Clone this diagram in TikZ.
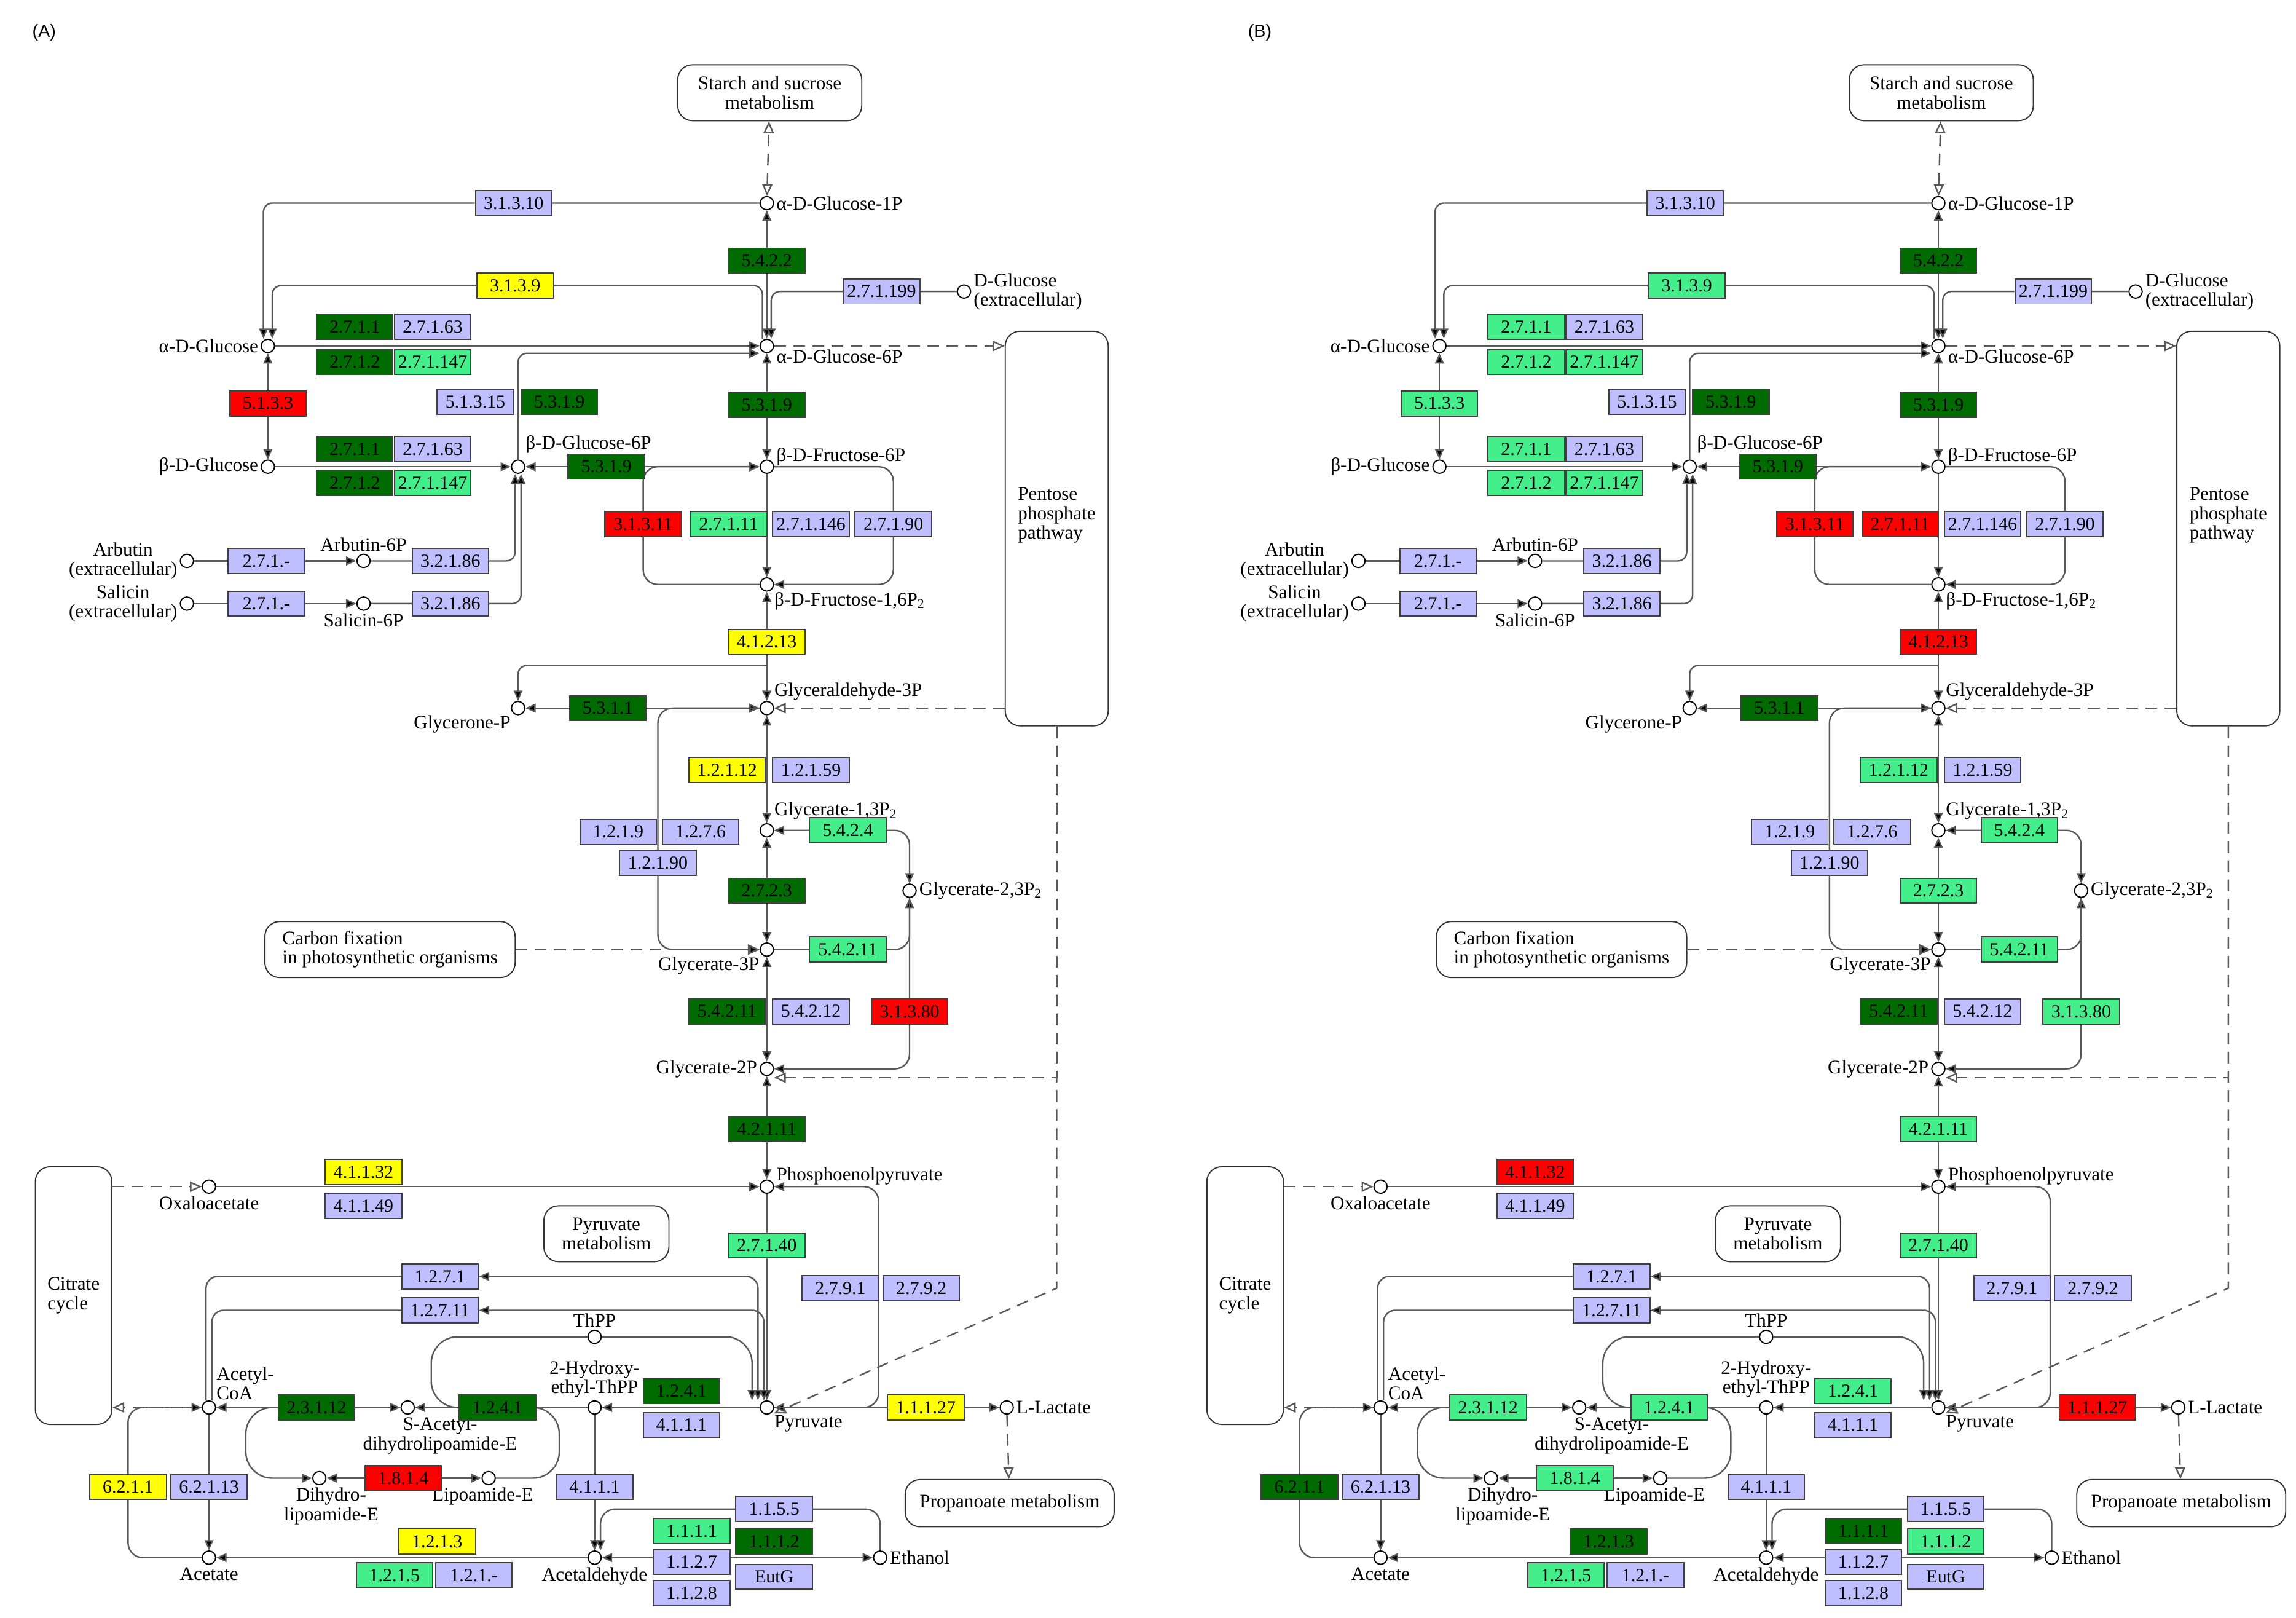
\documentclass[tikz,border=0pt]{standalone}
\usepackage{fontspec}
\setmainfont{Liberation Serif}
\newfontfamily\panelfont{Liberation Sans}
\usetikzlibrary{positioning}
\usetikzlibrary{arrows.meta}
\pgfdeclarelayer{bg}
\pgfsetlayers{bg,main}

\definecolor{lav}{HTML}{BFBFFF}
\definecolor{mint}{HTML}{44EE8B}
\definecolor{dkg}{HTML}{006B00}
\definecolor{rd}{HTML}{FF0000}
\definecolor{yl}{HTML}{FFFF00}

\tikzset{
  enz/.style={draw=black!75, line width=0.8pt, fill=lav, minimum width=52pt,
    minimum height=17pt, inner sep=0pt, font=\fontsize{12.5}{12.5}\selectfont},
  lgr/.style={fill=mint}, dgr/.style={fill=dkg}, red/.style={fill=rd}, ylw/.style={fill=yl},
  cpd/.style={circle, draw=black, fill=white, line width=0.8pt, minimum size=9pt, inner sep=0pt},
  every label/.style={font=\fontsize{13}{13}\selectfont, inner sep=1.5pt, align=left},
  map/.style={draw=black!80, line width=0.8pt, fill=white, rounded corners=10pt, align=left,
    font=\fontsize{13}{13}\selectfont},
  link/.style={draw=black!65, line width=1pt},
  ot/.tip={Triangle[open,length=8pt,width=7pt]},
  dlink/.style={link, dash pattern=on 8pt off 5pt},
  % colours of panel A
  k3139/.style=ylw, k2711/.style=dgr, k5133/.style=red, k27111/.style=lgr,
  k41213/.style=ylw, k12112/.style=ylw, k2723/.style=dgr, k31380/.style=red,
  k42111/.style=dgr, k41132/.style=ylw, k23112/.style=dgr, k1241/.style=dgr,
  k1814/.style=red, k11127/.style=ylw, k6211/.style=ylw, k1213/.style=ylw,
  k1111/.style=lgr, k1112/.style=dgr
}

\newcommand{\pwpanel}[1]{
% maps
\node[map, align=center, minimum width=125pt, minimum height=38pt] (#1-starch) at (523,63) {Starch and sucrose\\metabolism};
\node[map, minimum width=70pt, minimum height=268pt,
  label={[yshift=9pt]center:{Pentose\\phosphate\\pathway}}] (#1-ppp) at (718,359) {};
\node[map, minimum width=170pt, minimum height=38pt] (#1-cfix) at (265,645) {Carbon fixation\\in photosynthetic organisms};
\node[map, minimum width=52pt, minimum height=175pt] (#1-cit) at (50,880) {Citrate\\cycle};
\node[map, align=center, minimum width=85pt, minimum height=38pt] (#1-pyrm) at (412,838) {Pyruvate\\metabolism};
\node[map, minimum width=142pt, minimum height=32pt] (#1-prop) at (686,1021) {Propanoate metabolism};

% compounds
\node[cpd, label=right:{α-D-Glucose-1P}] (#1-g1p) at (521,138) {};
\node[cpd, label=right:{D-Glucose\\(extracellular)}] (#1-dglc) at (655,198) {};
\node[cpd, label=left:{α-D-Glucose}] (#1-aglc) at (182,235) {};
\node[cpd, label={[yshift=-7pt]right:{α-D-Glucose-6P}}] (#1-g6p) at (521,235) {};
\node[cpd, label=left:{β-D-Glucose}] (#1-bglc) at (182,317) {};
\node[cpd, label={[yshift=4pt]above right:{β-D-Glucose-6P}}] (#1-bg6p) at (352,317) {};
\node[cpd, label={[yshift=7pt]right:{β-D-Fructose-6P}}] (#1-bf6p) at (521,317) {};
\node[cpd, label=below right:{β-D-Fructose-1,6P\textsubscript{2}}] (#1-bf16p) at (521,397) {};
\node[cpd, label={[align=center]left:{Arbutin\\(extracellular)}}] (#1-arbx) at (127,381) {};
\node[cpd, label=above:{Arbutin-6P}] (#1-arb6p) at (247,381) {};
\node[cpd, label={[align=center]left:{Salicin\\(extracellular)}}] (#1-salx) at (127,410) {};
\node[cpd, label=below:{Salicin-6P}] (#1-sal6p) at (247,410) {};
\node[cpd, label=above right:{Glyceraldehyde-3P}] (#1-ga3p) at (521,481) {};
\node[cpd, label=below left:{Glycerone-P}] (#1-gnp) at (352,481) {};
\node[cpd, label={[yshift=2pt]above right:{Glycerate-1,3P\textsubscript{2}}}] (#1-g13p) at (521,564) {};
\node[cpd, label=right:{Glycerate-2,3P\textsubscript{2}}] (#1-g23p) at (618,605) {};
\node[cpd, label=below left:{Glycerate-3P}] (#1-g3p) at (521,645) {};
\node[cpd, label=left:{Glycerate-2P}] (#1-g2p) at (521,726) {};
\node[cpd, label={[yshift=7pt]right:{Phosphoenolpyruvate}}] (#1-pep) at (521,806) {};
\node[cpd, label=below:{Oxaloacetate}] (#1-oaa) at (142,806) {};
\node[cpd, label=below right:{Pyruvate}] (#1-pyr) at (521,956) {};
\node[cpd, label=right:{L-Lactate}] (#1-llac) at (684,956) {};
\node[cpd, label=above:{ThPP}] (#1-thpp) at (404,908) {};
\node[cpd, label={[align=center]above:{2-Hydroxy-\\ethyl-ThPP}}] (#1-hetpp) at (404,956) {};
\node[cpd, label=above right:{Acetyl-\\CoA}] (#1-acoa) at (142,956) {};
\node[cpd, label={[align=center,xshift=22pt]below:{S-Acetyl-\\dihydrolipoamide-E}}] (#1-sacl) at (277,956) {};
\node[cpd, label={[align=center,xshift=8pt]below:{Dihydro-\\lipoamide-E}}] (#1-dhl) at (217,1004) {};
\node[cpd, label={[xshift=-4pt]below:{Lipoamide-E}}] (#1-lam) at (332,1004) {};
\node[cpd, label=below:{Acetate}] (#1-acet) at (142,1058) {};
\node[cpd, label=below:{Acetaldehyde}] (#1-acald) at (404,1058) {};
\node[cpd, label=right:{Ethanol}] (#1-etoh) at (598,1058) {};

% enzymes
\node[enz] (#1-e31310) at (349,138) {3.1.3.10};
\node[enz, dgr] (#1-e5422) at (521,177) {5.4.2.2};
\node[enz, k3139] (#1-e3139) at (350,194) {3.1.3.9};
\node[enz] (#1-e271199) at (599,198) {2.7.1.199};
\node[enz, k2711] (#1-e2711a) at (241,222) {2.7.1.1};
\node[enz] (#1-e27163a) at (294,222) {2.7.1.63};
\node[enz, k2711] (#1-e2712a) at (241,246) {2.7.1.2};
\node[enz, lgr] (#1-e27147a) at (294,246) {2.7.1.147};
\node[enz, k5133] (#1-e5133) at (182,274) {5.1.3.3};
\node[enz] (#1-e51315) at (323,273) {5.1.3.15};
\node[enz, dgr] (#1-e5319a) at (380,273) {5.3.1.9};
\node[enz, dgr] (#1-e5319b) at (521,275) {5.3.1.9};
\node[enz, k2711] (#1-e2711b) at (241,305) {2.7.1.1};
\node[enz] (#1-e27163b) at (294,305) {2.7.1.63};
\node[enz, k2711] (#1-e2712b) at (241,328) {2.7.1.2};
\node[enz, lgr] (#1-e27147b) at (294,328) {2.7.1.147};
\node[enz, dgr] (#1-e5319c) at (412,317) {5.3.1.9};
\node[enz, red] (#1-e31311) at (437,356) {3.1.3.11};
\node[enz, k27111] (#1-e27111) at (495,356) {2.7.1.11};
\node[enz] (#1-e27146) at (551,356) {2.7.1.146};
\node[enz] (#1-e27190) at (607,356) {2.7.1.90};
\node[enz] (#1-e271a) at (181,381) {2.7.1.-};
\node[enz] (#1-e32186a) at (306,381) {3.2.1.86};
\node[enz] (#1-e271b) at (181,410) {2.7.1.-};
\node[enz] (#1-e32186b) at (306,410) {3.2.1.86};
\node[enz, k41213] (#1-e41213) at (521,436) {4.1.2.13};
\node[enz, dgr] (#1-e5311) at (413,481) {5.3.1.1};
\node[enz, k12112] (#1-e12112) at (494,523) {1.2.1.12};
\node[enz] (#1-e12159) at (551,523) {1.2.1.59};
\node[enz] (#1-e1219) at (420,565) {1.2.1.9};
\node[enz] (#1-e1276) at (476,565) {1.2.7.6};
\node[enz] (#1-e12190) at (447,586) {1.2.1.90};
\node[enz, lgr] (#1-e5424) at (576,564) {5.4.2.4};
\node[enz, k2723] (#1-e2723) at (521,605) {2.7.2.3};
\node[enz, lgr] (#1-e54211a) at (576,645) {5.4.2.11};
\node[enz, dgr] (#1-e54211b) at (494,687) {5.4.2.11};
\node[enz] (#1-e54212) at (551,687) {5.4.2.12};
\node[enz, k31380] (#1-e31380) at (618,687) {3.1.3.80};
\node[enz, k42111] (#1-e42111) at (521,767) {4.2.1.11};
\node[enz, k41132] (#1-e41132) at (247,796) {4.1.1.32};
\node[enz] (#1-e41149) at (247,819) {4.1.1.49};
\node[enz, lgr] (#1-e27140) at (521,846) {2.7.1.40};
\node[enz] (#1-e2791) at (571,875) {2.7.9.1};
\node[enz] (#1-e2792) at (626,875) {2.7.9.2};
\node[enz] (#1-e1271) at (299,867) {1.2.7.1};
\node[enz] (#1-e12711) at (299,890) {1.2.7.11};
\node[enz, k23112] (#1-e23112) at (215,956) {2.3.1.12};
\node[enz, k1241] (#1-e1241a) at (338,956) {1.2.4.1};
\node[enz, k1241] (#1-e1241b) at (463,945) {1.2.4.1};
\node[enz] (#1-e4111b) at (463,968) {4.1.1.1};
\node[enz, k11127] (#1-e11127) at (629,956) {1.1.1.27};
\node[enz, k1814] (#1-e1814) at (274,1004) {1.8.1.4};
\node[enz] (#1-e4111a) at (404,1010) {4.1.1.1};
\node[enz, k6211] (#1-e6211) at (87,1010) {6.2.1.1};
\node[enz] (#1-e62113) at (142,1010) {6.2.1.13};
\node[enz, k1213] (#1-e1213) at (297,1047) {1.2.1.3};
\node[enz, k1111] (#1-e1111) at (470,1040) {1.1.1.1};
\node[enz] (#1-e1155) at (526,1025) {1.1.5.5};
\node[enz, k1112] (#1-e1112) at (526,1047) {1.1.1.2};
\node[enz] (#1-e1127) at (470,1061) {1.1.2.7};
\node[enz] (#1-e1128) at (470,1082) {1.1.2.8};
\node[enz] (#1-eEutG) at (526,1071) {EutG};
\node[enz, lgr] (#1-e1215) at (268,1070) {1.2.1.5};
\node[enz] (#1-e121x) at (322,1070) {1.2.1.-};

\coordinate (#1-gbr) at (521,452);
\coordinate (#1-pkl) at (597,875);
\coordinate (#1-tl) at (293,908);
\coordinate (#1-ll) at (167,956);
\coordinate (#1-lr) at (380,956);

\begin{pgfonlayer}{bg}
% glycolysis, upper part
\draw[dlink, ot-ot] (#1-g1p) -- (#1-starch);
\draw[link, <->] (#1-g1p) -- (#1-g6p);
\draw[link, ->, rounded corners=6pt] (#1-g1p) -- (#1-e31310) -| ([xshift=-3pt]#1-aglc.north);
\draw[link, ->, rounded corners=6pt] ([xshift=-3pt]#1-g6p.north) |- (#1-e3139) -| ([xshift=3pt]#1-aglc.north);
\draw[link, ->, rounded corners=6pt] (#1-dglc) -- (#1-e271199) -| ([xshift=3pt]#1-g6p.north);
\draw[link, ->] (#1-aglc) -- (#1-g6p);
\draw[dlink, -ot] (#1-g6p) -- (#1-g6p -| #1-ppp.west);
\draw[link, <->] (#1-aglc) -- (#1-bglc);
\draw[link, ->] (#1-bglc) -- (#1-bg6p);
\draw[link, ->, rounded corners=6pt] (#1-bg6p) |- ([yshift=-5pt]#1-g6p.west);
\draw[link, <->] (#1-bg6p) -- (#1-bf6p);
\draw[link, <->] (#1-g6p) -- (#1-bf6p);
\draw[link, ->] (#1-arbx) -- (#1-arb6p);
\draw[link, ->, rounded corners=6pt] (#1-arb6p) -| ([xshift=-2pt]#1-bg6p.south);
\draw[link, ->] (#1-salx) -- (#1-sal6p);
\draw[link, ->, rounded corners=6pt] (#1-sal6p) -| ([xshift=2pt]#1-bg6p.south);
\draw[link, ->] (#1-bf6p) -- (#1-bf16p);
\draw[link, ->, rounded corners=10pt] (#1-bf16p) -| (#1-e31311) |- (#1-bf6p);
\draw[link, ->, rounded corners=10pt] (#1-bf6p) -| (#1-e27190) |- (#1-bf16p);
\draw[link, <->] (#1-bf16p) -- (#1-ga3p);
\draw[link, ->, rounded corners=6pt] (#1-gbr) -| (#1-gnp);
\draw[link, <->] (#1-gnp) -- (#1-ga3p);
\draw[dlink, -ot] (#1-ga3p -| #1-ppp.west) -- (#1-ga3p);
% glycolysis, lower part
\draw[link, <->] (#1-ga3p) -- (#1-g13p);
\draw[link, ->, rounded corners=10pt] (#1-ga3p) -| (#1-e12190) |- (#1-g3p);
\draw[link, <->] (#1-g13p) -- (#1-g3p);
\draw[link, <->, rounded corners=10pt] (#1-g13p) -| (#1-g23p);
\draw[link, ->, rounded corners=10pt] (#1-g3p) -- (#1-e54211a) -| (#1-g23p);
\draw[link, ->, rounded corners=10pt] (#1-g23p) -- (#1-e31380) |- (#1-g2p);
\draw[dlink, -ot] (#1-cfix) -- (#1-g3p);
\draw[link, <->] (#1-g3p) -- (#1-g2p);
\draw[dlink, -ot] (#1-ppp.south) |- ([yshift=-6pt]#1-g2p.east);
\draw[dlink, -ot] (#1-ppp.south) -- (#1-ppp.south |- #1-e2792) -- ([yshift=-4pt]#1-pyr.east);
\draw[link, <->] (#1-g2p) -- (#1-pep);
\draw[dlink, -ot] (#1-cit.east |- #1-oaa) -- (#1-oaa);
\draw[link, ->] (#1-oaa) -- (#1-pep);
\draw[link, ->] (#1-pep) -- (#1-pyr);
\draw[link, <->, rounded corners=10pt] (#1-pyr) -| (#1-pkl) |- (#1-pep);
% pyruvate
\draw[link, <->, rounded corners=8pt] ([xshift=-2pt]#1-acoa.north) |- (#1-e1271) -| ([xshift=-6pt]#1-pyr.north);
\draw[link, <->, rounded corners=8pt] ([xshift=2pt]#1-acoa.north) |- (#1-e12711) -| ([xshift=-2pt]#1-pyr.north);
\draw[link, rounded corners=18pt] (#1-e1241a) -| (#1-tl) -- (#1-thpp);
\draw[link, ->, rounded corners=18pt] (#1-thpp) -| ([xshift=-10pt]#1-pyr.north);
\draw[link, ->] (#1-pyr) -- (#1-hetpp);
\draw[link, ->] (#1-hetpp) -- (#1-sacl);
\draw[link, <->] (#1-sacl) -- (#1-acoa);
\draw[dlink, -ot] (#1-acoa) -- (#1-acoa -| #1-cit.east);
\draw[link, ->, rounded corners=18pt] (#1-e23112) -- (#1-ll) |- (#1-dhl);
\draw[link, <->] (#1-dhl) -- (#1-lam);
\draw[link, rounded corners=18pt] (#1-lam) -| (#1-lr) -- (#1-e1241a);
\draw[link, ->] (#1-hetpp) -- (#1-acald);
\draw[link, ->] (#1-acald) -- (#1-acet);
\draw[link, ->] (#1-acoa) -- (#1-acet);
\draw[link, ->, rounded corners=10pt] (#1-acet) -| (#1-e6211) |- (#1-acoa);
\draw[link, <->] (#1-etoh) -- (#1-acald);
\draw[link, ->, rounded corners=10pt] (#1-etoh) |- (#1-e1155) -| ([xshift=4pt]#1-acald.north);
\draw[link, ->] (#1-pyr) -- (#1-llac);
\draw[dlink, -ot] (#1-llac) -- (#1-prop);
\end{pgfonlayer}
}

\begin{document}
\begin{tikzpicture}[x=1pt, y=-1pt, >={Triangle[length=7pt,width=6pt,fill=black]}]
\useasboundingbox (0,0) rectangle (1560,1099);

\node[font=\panelfont\fontsize{12}{12}\selectfont] (lblA) at (30,22) {(A)};
\node[font=\panelfont\fontsize{12}{12}\selectfont] (lblB) at (856,22) {(B)};

\pwpanel{a}

\begin{scope}[xshift=796pt,
  k3139/.style=lgr, k2711/.style=lgr, k5133/.style=lgr, k27111/.style=red,
  k41213/.style=red, k12112/.style=lgr, k2723/.style=lgr, k31380/.style=lgr,
  k42111/.style=lgr, k41132/.style=red, k23112/.style=lgr, k1241/.style=lgr,
  k1814/.style=lgr, k11127/.style=red, k6211/.style=dgr, k1213/.style=dgr,
  k1111/.style=dgr, k1112/.style=lgr]
\pwpanel{b}
\end{scope}
\end{tikzpicture}
\end{document}
